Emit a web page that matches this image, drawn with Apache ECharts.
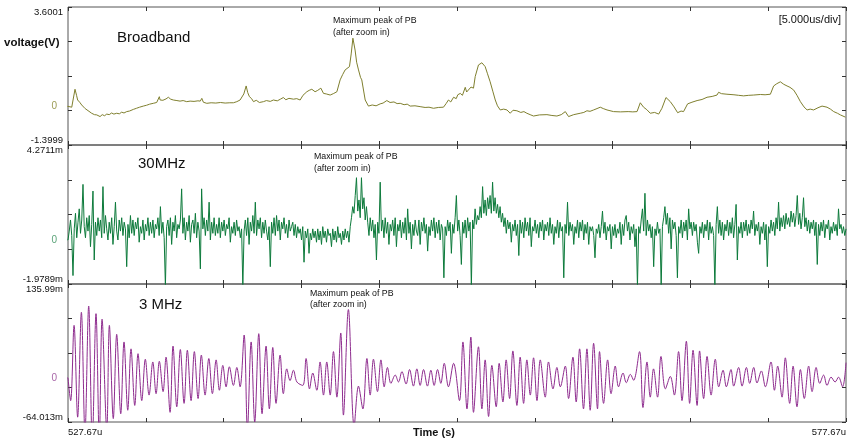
<!DOCTYPE html>
<html><head><meta charset="utf-8">
<script src="https://cdn.jsdelivr.net/npm/echarts@6/dist/echarts.min.js"></script>
<style>html,body{margin:0;padding:0;background:#fff}#c{width:847px;height:441px}</style>
</head><body><div id="c"></div>
<script>
// ---- time axis (us after 527.67u), 5.000us/div ----
const timeStartLabel = '527.67u';
const timeEndLabel = '577.67u';

// ---- Broadband: [time us, voltage V] ----
const broadbandPoints = [
[0,0],[0.24,-0.03],[0.45,0.62],[0.55,0.40],[0.62,0.23],[0.75,0.15],[0.88,0.05],[1.00,-0.02],[1.10,-0.08],[1.20,-0.13],
[1.35,-0.18],[1.52,-0.25],[1.60,-0.20],[1.70,-0.30],[1.85,-0.31],[1.95,-0.36],[2.06,-0.37],[2.20,-0.30],[2.35,-0.34],[2.49,-0.28],
[2.65,-0.30],[2.80,-0.24],[2.95,-0.28],[3.13,-0.25],[3.30,-0.27],[3.45,-0.21],[3.60,-0.24],[3.77,-0.19],[3.95,-0.17],[4.20,-0.11],
[4.40,-0.07],[4.60,-0.03],[4.84,0.01],[5.05,0.04],[5.25,0.08],[5.48,0.11],[5.70,0.14],[5.87,0.35],[5.92,0.23],[6.10,0.22],
[6.30,0.27],[6.45,0.33],[6.60,0.26],[6.77,0.23],[7.00,0.21],[7.20,0.19],[7.40,0.21],[7.63,0.17],[7.85,0.19],[8.10,0.18],
[8.35,0.20],[8.50,0.19],[8.60,0.29],[8.70,0.15],[8.92,0.11],[9.20,0.13],[9.50,0.12],[9.80,0.14],[10.10,0.12],[10.40,0.13],
[10.63,0.13],[10.85,0.17],[11.06,0.23],[11.30,0.45],[11.45,0.74],[11.55,0.50],[11.66,0.35],[11.80,0.28],[11.92,0.17],[12.10,0.22],
[12.30,0.14],[12.56,0.17],[12.75,0.21],[13.00,0.18],[13.20,0.23],[13.45,0.20],[13.65,0.26],[13.84,0.32],[14.00,0.24],[14.20,0.29],
[14.49,0.26],[14.70,0.28],[14.92,0.23],[15.10,0.40],[15.35,0.53],[15.50,0.58],[15.67,0.62],[15.88,0.53],[16.05,0.58],[16.25,0.66],
[16.42,0.47],[16.60,0.45],[16.85,0.41],[17.05,0.46],[17.28,0.53],[17.49,0.96],[17.65,1.15],[17.81,1.32],[18.09,1.44],[18.20,1.90],
[18.31,2.47],[18.45,2.04],[18.55,1.60],[18.67,1.32],[18.80,1.05],[18.88,0.96],[19.10,0.23],[19.31,0.01],[19.55,0.05],[19.80,0.02],
[20.06,0.09],[20.25,0.12],[20.49,0.21],[20.70,0.14],[20.95,0.16],[21.15,0.10],[21.35,0.11],[21.60,0.06],[21.80,0.08],[21.99,0.01],
[22.30,0.02],[22.63,-0.01],[22.95,-0.04],[23.20,-0.03],[23.49,-0.07],[23.80,-0.04],[24.13,-0.03],[24.30,0.10],[24.45,0.23],[24.60,0.16],
[24.78,0.33],[24.95,0.28],[25.05,0.42],[25.21,0.47],[25.35,0.40],[25.53,0.69],[25.62,0.52],[25.74,0.59],[25.90,0.70],[26.06,0.66],
[26.17,1.08],[26.38,1.50],[26.60,1.58],[26.81,1.44],[26.95,1.20],[27.13,0.89],[27.30,0.55],[27.46,0.23],[27.60,0.02],[27.78,-0.13],
[28.00,-0.10],[28.21,-0.13],[28.42,-0.25],[28.60,-0.14],[28.85,-0.16],[29.10,-0.22],[29.30,-0.19],[29.49,-0.25],[29.70,-0.30],[29.92,-0.35],
[30.30,-0.31],[30.78,-0.30],[31.10,-0.33],[31.42,-0.35],[31.70,-0.30],[31.96,-0.19],[32.17,-0.37],[32.50,-0.30],[32.92,-0.25],[33.15,-0.22],
[33.35,-0.16],[33.55,-0.18],[33.78,-0.13],[34.00,-0.08],[34.21,-0.03],[34.40,-0.08],[34.64,-0.13],[35.06,-0.19],[35.50,-0.20],[36.00,-0.19],
[36.30,-0.20],[36.57,-0.19],[36.78,0.13],[36.99,-0.03],[37.20,-0.12],[37.42,-0.25],[37.70,-0.22],[37.96,-0.28],[38.17,-0.07],[38.43,0.32],
[38.71,0.17],[38.95,-0.02],[39.18,-0.23],[39.40,-0.17],[39.56,-0.19],[39.82,0.09],[40.10,0.15],[40.43,0.21],[40.75,0.25],[41.07,0.33],
[41.40,0.36],[41.71,0.41],[41.81,0.51],[42.00,0.46],[42.35,0.44],[42.80,0.42],[43.10,0.40],[43.42,0.38],[43.75,0.40],[44.07,0.41],
[44.50,0.43],[44.80,0.42],[45.14,0.44],[45.35,0.74],[45.55,0.82],[45.78,0.89],[46.00,0.80],[46.21,0.74],[46.40,0.69],[46.64,0.59],
[46.85,0.40],[47.07,0.17],[47.30,-0.02],[47.50,-0.13],[47.70,-0.10],[47.92,-0.13],[48.20,-0.05],[48.46,0.01],[48.78,-0.03],[49.00,-0.10],
[49.21,-0.19],[49.45,-0.25],[49.64,-0.31],[49.96,-0.39]];

// ---- 30MHz (mV), fixed sample interval ----
const mhz30Step = 50 / 623;
const mhz30Values = [
0.0,0.4,0.9,0.2,-1.6,0.5,1.2,0.1,0.8,1.4,0.3,0.9,2.5,0.6,0.1,1.0,0.4,1.1,-0.3,0.7,
2.2,-0.9,0.8,0.2,1.0,0.4,0.9,0.1,2.4,0.3,1.1,0.5,0.0,0.8,0.3,1.0,-0.2,0.6,1.7,0.4,
0.0,0.9,0.4,1.0,0.2,0.8,0.5,-1.2,0.7,0.1,1.1,0.3,0.9,0.2,0.8,0.5,1.0,-0.1,0.6,0.3,
0.9,0.0,0.7,0.4,1.0,0.2,0.8,0.3,0.9,0.1,0.7,0.5,1.0,0.2,1.5,0.3,0.8,0.1,-2.1,0.6,
0.9,0.2,1.0,-0.2,0.8,0.4,1.1,0.1,0.7,0.5,0.9,2.3,0.3,1.0,0.0,0.8,0.4,1.1,-0.1,0.7,
0.9,0.3,1.2,0.1,0.8,0.4,-1.3,2.3,0.5,1.0,0.2,0.9,0.4,1.7,0.0,0.8,0.3,1.0,0.2,0.7,
0.3,1.0,0.1,0.8,0.4,0.9,0.2,0.7,0.5,1.0,-0.1,0.6,0.3,0.8,0.2,0.9,0.4,0.6,0.1,0.5,
-2.1,0.4,0.9,0.2,1.0,-0.2,0.8,0.4,1.1,0.3,1.7,0.2,0.9,0.5,1.0,0.1,0.8,0.3,0.9,0.4,
0.0,0.6,-1.2,0.8,0.3,1.0,0.2,1.1,0.4,0.9,0.0,0.8,0.5,1.0,0.3,0.7,0.1,0.9,0.4,0.6,
0.8,0.2,0.7,0.1,0.6,0.3,0.5,0.0,0.6,-1.0,0.4,0.1,0.5,-0.6,0.3,0.0,0.5,0.1,0.4,-0.1,
0.5,0.0,0.4,-0.2,0.6,0.1,0.4,-0.1,0.5,0.2,0.3,-0.3,0.5,0.0,0.4,-0.1,0.6,0.1,0.3,-0.2,
0.4,0.0,0.5,0.1,0.4,-0.1,0.6,1.0,1.5,1.2,2.0,2.8,1.3,1.8,1.0,2.8,1.4,1.9,0.9,1.5,
0.8,0.2,1.0,0.4,0.9,0.1,0.7,-0.9,0.8,0.3,2.6,0.4,0.9,0.1,1.0,0.3,0.8,-0.2,0.7,0.4,
0.9,0.2,1.0,-0.3,0.7,0.4,0.9,0.1,0.8,0.3,1.0,0.0,1.4,0.3,0.8,-0.4,0.7,0.2,0.9,0.4,
0.2,0.9,-0.2,0.8,0.4,1.0,0.3,0.7,-0.5,0.6,0.2,0.9,0.4,1.0,0.1,0.8,0.3,0.9,0.0,0.7,
0.5,-1.7,0.6,0.2,0.9,0.4,0.8,-0.6,0.7,0.3,1.0,2.0,0.4,0.9,0.2,-1.1,0.8,0.3,0.9,0.1,
1.0,0.4,0.8,-2.1,0.9,0.5,1.4,0.7,1.1,0.9,1.5,1.0,2.4,1.2,1.8,1.1,1.9,1.4,2.0,1.2,
2.6,1.3,1.9,1.2,1.6,1.0,1.5,0.8,1.2,0.6,1.0,0.3,0.9,0.5,0.8,-0.1,0.7,0.4,0.9,0.2,
0.7,-0.7,0.9,0.3,0.8,0.1,1.0,0.4,0.8,0.2,1.0,-0.3,0.6,0.4,0.9,0.3,0.7,0.1,0.8,0.4,
0.9,0.0,0.7,0.4,0.8,0.2,1.0,0.3,0.7,-0.2,0.6,0.3,0.9,0.1,0.8,0.4,0.6,-1.7,0.7,0.3,
1.7,0.2,0.8,0.4,0.7,-0.2,0.6,0.3,0.9,0.1,0.8,0.4,0.9,0.0,0.7,0.3,0.8,-0.2,0.6,0.4,
0.6,0.2,-0.8,0.5,0.3,0.7,0.1,0.6,1.3,0.3,0.8,0.0,0.6,0.4,0.7,-0.4,0.6,0.2,0.7,0.1,
0.5,0.3,0.8,-0.2,0.7,0.2,0.9,1.1,0.4,0.8,0.0,0.6,0.3,0.7,-0.3,0.5,-2.1,0.6,0.3,0.9,
1.4,0.4,2.1,0.2,0.9,0.4,0.7,0.1,0.6,-1.2,0.5,0.2,0.8,0.3,0.5,-2.1,0.6,1.0,1.5,0.7,
1.2,0.3,1.0,-0.4,0.9,0.5,0.8,0.2,-1.7,0.6,0.3,0.9,0.1,0.8,0.4,0.9,0.0,1.4,0.5,0.8,
0.2,0.8,0.4,0.7,-0.1,-0.6,0.6,0.3,0.8,0.1,0.7,0.4,0.9,0.0,0.8,0.3,0.6,0.2,-2.1,0.7,
1.5,0.3,0.9,0.2,0.8,0.0,0.7,0.4,0.9,0.2,0.8,0.3,1.0,0.1,0.7,1.6,-0.9,0.6,0.3,0.8,
0.1,0.8,0.4,0.9,0.2,0.7,0.3,0.9,0.5,1.3,0.2,0.7,0.4,0.8,-0.2,0.6,0.3,0.8,0.0,0.7,
-1.2,0.6,0.3,0.9,0.4,0.8,0.2,1.0,0.5,1.7,0.4,1.0,0.6,1.1,0.5,1.2,0.7,1.0,0.6,1.3,
0.8,1.2,0.6,1.1,2.0,0.7,1.2,0.5,1.0,1.9,0.6,1.0,0.4,0.9,0.3,0.8,0.5,0.9,0.2,0.8,
-1.1,0.7,0.2,0.8,0.4,0.9,0.1,0.7,0.5,0.9,0.0,0.6,0.3,0.8,0.4,0.7,0.2,1.4,0.5,0.7,
0.3,0.6,0.2,0.5];

// ---- 3 MHz (mV): times of the read peaks / troughs ----
const mhz3Time = [0,
0.17,0.39,0.62,0.86,1.09,1.33,1.56,1.80,2.01,2.19,2.49,2.66,2.91,3.13,3.39,3.60,3.84,4.05,4.29,4.50,4.74,4.97,5.21,5.45,5.66,5.87,6.11,6.30,6.56,6.75,6.99,7.22,7.46,7.67,7.91,8.12,8.36,8.57,8.81,9.05,9.28,9.52,9.73,9.95,10.16,10.37,10.63,10.85,11.06,11.32,11.53,11.77,12.00,12.26,12.47,12.73,12.94,13.16,13.37,13.63,13.84,14.06,14.27,14.49,14.71,
15.09,15.30,15.52,15.73,15.99,16.20,16.42,16.63,16.85,17.06,17.28,17.53,17.70,18.02,18.39,18.67,18.95,19.21,19.42,19.63,19.89,20.11,20.32,20.53,20.75,21.03,21.24,21.46,21.73,21.95,22.20,22.42,22.63,22.85,23.10,23.32,23.53,23.75,23.96,24.18,24.45,24.78,25.16,25.38,25.64,25.89,26.06,26.38,26.60,26.81,27.03,27.24,27.52,27.71,27.95,28.16,28.38,28.59,28.85,29.06,29.28,29.49,29.71,29.92,30.14,30.35,30.67,30.88,31.17,31.42,31.64,31.96,32.17,32.45,32.66,32.88,33.13,33.35,33.56,33.78,34.03,34.16,
34.42,34.68,34.90,35.17,35.38,35.67,35.88,36.14,36.35,36.73,36.95,37.21,37.42,37.63,37.89,38.11,38.39,38.71,38.97,39.24,39.46,39.74,39.95,40.17,40.43,40.59,40.85,41.07,41.33,41.60,41.82,42.10,42.31,42.61,42.78,43.10,43.32,43.60,43.81,44.07,44.28,44.56,44.82,45.18,45.40,45.61,45.89,46.10,46.38,46.60,46.85,47.07,47.32,47.60,47.82,48.08,48.31,48.56,48.78,49.04,49.30,49.52,49.78,50.00];
const mhz3Values = [0,
-33,76,-57,95,-80,104,-92,93,-88,85,-75,76,-59,63,-52,52,-47,42,-40,35,-33,27,-25,23,-23,24,-20,30,-50,46,-42,41,-37,40,-33,38,-30,33,-25,28,-23,26,-18,18,-13,16,-11,15,-13,62,-75,52,-64,64,-52,46,-45,44,-37,33,-23,13,-4,11,-6,
-11,28,-16,7,-18,23,-25,23,-25,38,-28,65,-54,99,-70,-12,-45,28,-25,27,-20,26,-13,15,-8,4,-6,9,-9,12,-12,13,-11,12,-12,11,-11,12,-8,21,-13,21,-33,52,-45,59,-50,45,-45,26,-56,18,-42,21,-35,26,-30,39,-40,30,-37,26,-25,29,-33,26,-28,23,-16,15,-13,17,-30,30,-35,42,-45,42,-47,50,-45,38,
-37,26,-23,17,-13,7,-7,5,-3.5,38,-43,23,-28,13,-28,31,-16,2,-25,38,-33,53,-37,40,-40,39,-30,31,-25,27,-13,11,-13,12,-12,15,-12,15,-8,15,-7.5,10,-13,23,-18,17,-28,29,-37,17,-42,12,-30,17,-20,15,-8,4,-11,1,-6,1,-13,22];

// ---- panel ranges & labels ----
const panelNames = ['Broadband', '30MHz', '3 MHz'];
const yMaxValues = [3.6001, 4.2711, 135.99];
const yMinValues = [-1.3999, -1.9789, -64.013];
const yMaxLabels = ['3.6001', '4.2711m', '135.99m'];
const yMinLabels = ['-1.3999', '-1.9789m', '-64.013m'];

const lineColors = ['#7f7f2e', '#0d7a3b', '#8e2c8e'];
const zeroColors = ['#9c9c55', '#5aa378', '#a866a8'];
const FONT = '"Liberation Sans", Arial, sans-serif';

const chart = echarts.init(document.getElementById('c'), null, {renderer: 'canvas'});

const panelBoxes = [{top: 7, height: 138}, {top: 145, height: 139}, {top: 284, height: 138}];
const grid = [], xAxis = [], yAxis = [], series = [];
const tickStyle = {show: true, inside: true, length: 4, lineStyle: {color: '#333', width: 1}};
const noLine = {show: false, onZero: false};

panelBoxes.forEach((b, k) => {
  grid.push({left: 68, width: 778, top: b.top, height: b.height, show: true,
    borderColor: '#555', borderWidth: 1, backgroundColor: 'transparent',
    containLabel: false, outerBoundsMode: 'none'});
  xAxis.push({gridIndex: k, type: 'value', min: 0, max: 50, interval: 5, position: 'bottom',
    axisLine: noLine, splitLine: {show: false}, axisTick: tickStyle,
    axisLabel: {show: k === 2, margin: 5, fontSize: 9.5, fontFamily: FONT, color: '#111',
      showMinLabel: true, showMaxLabel: true, alignMinLabel: 'left', alignMaxLabel: 'right',
      formatter: v => (v === 0 ? timeStartLabel : (v === 50 ? timeEndLabel : ''))}});
  xAxis.push({gridIndex: k, type: 'value', min: 0, max: 50, interval: 5, position: 'top',
    axisLine: noLine, splitLine: {show: false}, axisTick: tickStyle, axisLabel: {show: false}});
  const mx = yMaxValues[k], mn = yMinValues[k];
  yAxis.push({gridIndex: k, type: 'value', min: mn, max: mx, position: 'left',
    axisLine: noLine, axisTick: {show: false}, splitLine: {show: false},
    axisLabel: {show: true, margin: 5, fontSize: 9.5, fontFamily: FONT, color: '#111',
      showMinLabel: true, showMaxLabel: true,
      verticalAlignMaxLabel: 'top', verticalAlignMinLabel: 'bottom',
      formatter: v => {
        if (Math.abs(v - mx) < 1e-6) return yMaxLabels[k];
        if (Math.abs(v - mn) < 1e-6) return yMinLabels[k];
        if (v === 0) return '{z|0}';
        return '';
      },
      rich: {z: {color: zeroColors[k], fontSize: 10, fontFamily: FONT, padding: [0, 6, 0, 0]}}}});
  yAxis.push({gridIndex: k, type: 'value', min: 0, max: 4, interval: 1, position: 'left',
    axisLine: noLine, splitLine: {show: false}, axisTick: tickStyle, axisLabel: {show: false}});
  yAxis.push({gridIndex: k, type: 'value', min: 0, max: 4, interval: 1, position: 'right',
    axisLine: noLine, splitLine: {show: false}, axisTick: tickStyle, axisLabel: {show: false}});
  // zero reference marker left of the panel
  series.push({type: 'line', xAxisIndex: 2 * k, yAxisIndex: 3 * k, data: [[-0.7, 0], [0, 0]],
    clip: false, symbol: 'none', silent: true, lineStyle: {color: zeroColors[k], width: 1}, z: 1});
});

const traces = [
  broadbandPoints,
  mhz30Values.map((v, i) => [i * mhz30Step, v]),
  mhz3Time.map((t, i) => [t, mhz3Values[i]])
];
traces.forEach((d, k) => {
  series.push({type: 'line', name: panelNames[k], xAxisIndex: 2 * k, yAxisIndex: 3 * k, data: d,
    showSymbol: false, symbol: 'none', smooth: k === 2 ? 0.35 : false, clip: true,
    lineStyle: {color: lineColors[k], width: 1}, z: 3});
});

function txt(text, x, y, size, opts) {
  opts = opts || {};
  return {type: 'text', x: x, y: y, silent: true, z: 10,
    style: {text: text, fill: opts.fill || '#111', textAlign: opts.align || 'left', textVerticalAlign: 'middle',
      font: (opts.bold ? 'bold ' : '') + size + 'px ' + FONT}};
}

const graphic = [
  txt('voltage(V)', 4, 42.5, 11.5, {bold: true}),
  txt(panelNames[0], 117, 37.5, 15),
  txt(panelNames[1], 138, 164, 15),
  txt(panelNames[2], 139, 305, 15),
  txt('Maximum peak of PB', 333, 20.7, 8.8),
  txt('(after zoom in)', 333, 32.3, 8.8),
  txt('Maximum peak of PB', 314, 156.7, 8.8),
  txt('(after zoom in)', 314, 169, 8.8),
  txt('Maximum peak of PB', 310, 293.3, 8.8),
  txt('(after zoom in)', 310, 305, 8.8),
  txt('[5.000us/div]', 841, 20, 11, {align: 'right'}),
  txt('Time (s)', 413, 432.7, 11, {bold: true})
];

chart.setOption({
  animation: false,
  backgroundColor: '#fff',
  grid: grid, xAxis: xAxis, yAxis: yAxis, series: series, graphic: graphic
});
</script></body></html>
